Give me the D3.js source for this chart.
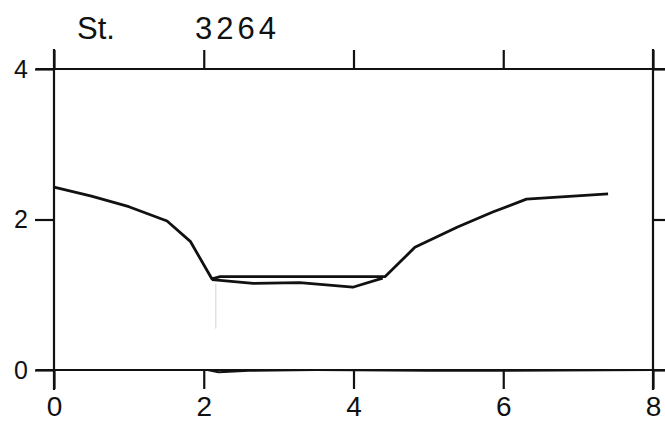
<!DOCTYPE html>
<html><head><meta charset="utf-8">
<script src="https://cdn.jsdelivr.net/npm/d3@7"></script>
<style>
html,body{margin:0;padding:0;background:#fff;}
svg{display:block;}
text{font-family:"Liberation Sans",Arial,sans-serif;fill:#111;}
</style></head>
<body>
<svg id="c" width="665" height="421"></svg>
<script>
// Data
const xTicks = [0, 2, 4, 6, 8];
const yTicks = [0, 2, 4];
const title = ["St.", "3264"];
// upper line: left slope, top of lens, right slope
const upperX = [0, 0.5, 1.0, 1.51, 1.82, 2.11, 2.22, 4.42, 4.82, 5.39, 5.86, 6.31, 7.40];
const upperY = [2.43, 2.31, 2.17, 1.98, 1.71, 1.21, 1.24, 1.24, 1.63, 1.90, 2.10, 2.27, 2.34];
// lower edge of lens
const lensX = [2.11, 2.66, 3.28, 3.99, 4.39];
const lensY = [1.20, 1.15, 1.16, 1.10, 1.22];
// bottom line
const bottomX = [0, 2.05, 2.2, 2.6, 3.5, 5.0, 6.0, 8.0];
const bottomY = [0, 0, -0.03, -0.01, 0, -0.01, -0.01, 0];

const svg = d3.select("#c");
const W = 665;
const x = d3.scaleLinear().domain([0, 8]).range([54, 653]);
const y = d3.scaleLinear().domain([0, 4]).range([370, 69]);
const ink = "#111";

// frame lines
const g = svg.append("g").attr("stroke", ink).attr("stroke-width", 2.2).attr("fill", "none");
g.append("line").attr("x1", x(0) - 18).attr("x2", W).attr("y1", y(4)).attr("y2", y(4));
g.append("line").attr("x1", x(0) - 18).attr("x2", W).attr("y1", y(0)).attr("y2", y(0));
g.append("line").attr("x1", x(0)).attr("x2", x(0)).attr("y1", y(4) - 20).attr("y2", y(0) + 20);
g.append("line").attr("x1", x(8)).attr("x2", x(8)).attr("y1", y(4) - 20).attr("y2", y(0) + 20);

// faint scan artifact
svg.append("line").attr("x1", x(2.16)).attr("x2", x(2.16)).attr("y1", y(1.15)).attr("y2", y(0.55))
  .attr("stroke", "#e2e2e2").attr("stroke-width", 1.5);

function style(sel){
  sel.select(".domain").remove();
  sel.selectAll(".tick line").attr("stroke", ink).attr("stroke-width", 2.2);
}
// top ticks
svg.append("g").attr("transform", `translate(0,${y(4)})`)
  .call(d3.axisTop(x).tickValues(xTicks).tickSize(19).tickFormat(""))
  .call(style);
// bottom axis
const bx = svg.append("g").attr("transform", `translate(0,${y(0)})`)
  .call(d3.axisBottom(x).tickValues(xTicks).tickSize(19).tickPadding(7).tickFormat(d3.format("d")))
  .call(style);
bx.selectAll("text").attr("font-size", 28).attr("fill", ink).attr("font-family", "Liberation Sans, Arial, sans-serif");
// left axis
const ly = svg.append("g").attr("transform", `translate(${x(0)},0)`)
  .call(d3.axisLeft(y).tickValues(yTicks).tickSize(19).tickPadding(7).tickFormat(d3.format("d")))
  .call(style);
ly.selectAll("text").attr("font-size", 25).attr("fill", ink).attr("font-family", "Liberation Sans, Arial, sans-serif");
// right ticks
svg.append("g").attr("transform", `translate(${x(8)},0)`)
  .call(d3.axisRight(y).tickValues(yTicks).tickSize(14).tickFormat(""))
  .call(style);

// data lines
const line = d3.line().x(d => x(d[0])).y(d => y(d[1]));
const lg = svg.append("g").attr("fill", "none").attr("stroke", ink).attr("stroke-width", 2.8).attr("stroke-linejoin", "round");
lg.append("path").attr("d", line(upperX.map((v, i) => [v, upperY[i]])));
lg.append("path").attr("d", line(lensX.map((v, i) => [v, lensY[i]])));
lg.append("path").attr("d", line(bottomX.map((v, i) => [v, bottomY[i]]))).attr("stroke-width", 2.2);

// title
svg.append("text").attr("x", 77).attr("y", 39).attr("font-size", 31).text(title[0]);
svg.append("text").attr("x", 195).attr("y", 39).attr("font-size", 31).attr("letter-spacing", 4).text(title[1]);
</script>
</body></html>
